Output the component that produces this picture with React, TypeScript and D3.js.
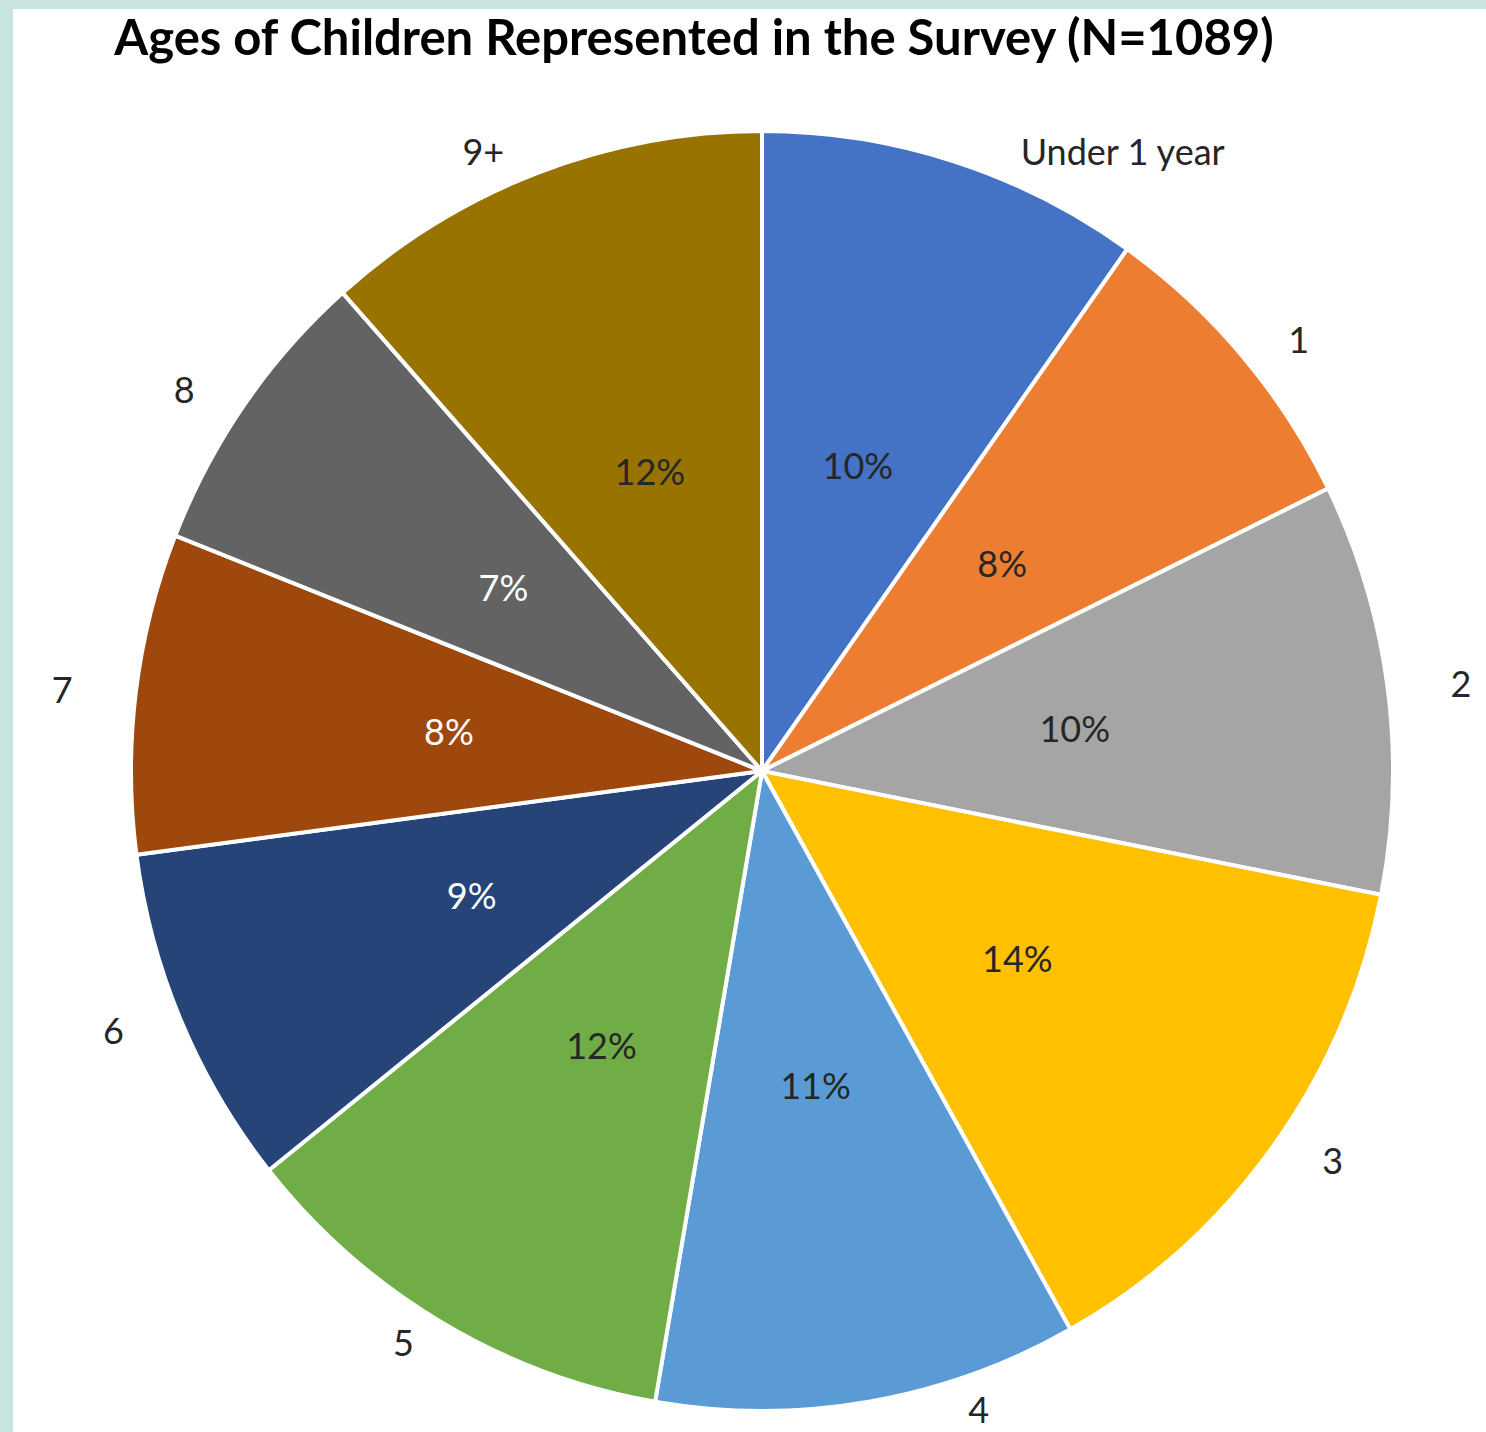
import React from "react";
import * as d3 from "d3";

const AGE_GROUPS = ["Under 1 year", "1", "2", "3", "4", "5", "6", "7", "8", "9+"];
const CHILD_COUNTS = [107, 86, 113, 150, 118, 126, 94, 88, 81, 126];
const SLICE_COLORS = [
  "#4472C4", "#ED7D31", "#A5A5A5", "#FFC000", "#5B9BD5",
  "#70AD47", "#264478", "#9E480E", "#636363", "#997300",
];
const TITLE = "Ages of Children Represented in the Survey (N=1089)";

const W = 1486;
const H = 1432;
const FONT = "Lato, 'Open Sans', sans-serif";
const LABEL_SIZE = 36;

let measureCtx: CanvasRenderingContext2D | null = null;
function textWidth(s: string, size: number) {
  if (!measureCtx) measureCtx = document.createElement("canvas").getContext("2d");
  if (!measureCtx) return s.length * size * 0.5;
  measureCtx.font = `${size}px Lato, 'Open Sans', sans-serif`;
  return measureCtx.measureText(s).width;
}

export default function App() {
  const cx = 762;
  const cy = 771;
  const r = 631;
  const ry = 640; // the original pie is a touch taller than wide
  const sy = ry / r;

  // outside labels sit on an ellipse, pushed back inside the chart when they'd leave it
  const labRx = 705;
  const labRy = 665;
  const labelMinY = 152;
  const labelMaxY = 1410;
  const capH = LABEL_SIZE * 0.72;

  const total = d3.sum(CHILD_COUNTS);
  const pct = d3.format(".0%");

  const slices = d3.pie<number>().sort(null).value((d) => d)(CHILD_COUNTS);
  const arc = d3.arc<d3.PieArcDatum<number>>().innerRadius(0).outerRadius(r);

  const outsidePos = (a: number, label: string) => {
    let x = Math.sin(a) * labRx;
    let y = -Math.cos(a) * labRy;
    const top = cy + y < labelMinY;
    const bottom = cy + y > labelMaxY;
    if (top || bottom) {
      y = (top ? labelMinY : labelMaxY) - cy;
      // slide sideways until the nearest text edge clears the pie
      const edgeY = top ? y + capH / 2 : y - capH / 2;
      const tx = r + 20;
      const ty = ry + 20;
      const x0 = tx * Math.sqrt(Math.max(1 - (edgeY / ty) ** 2, 0));
      x = Math.sign(x || 1) * (x0 + textWidth(label, LABEL_SIZE) / 2);
    }
    return [x, y];
  };

  return (
    <div style={{ position: "absolute", left: 0, top: 0 }}>
      <svg width={W} height={H} style={{ display: "block" }}>
        <rect width={W} height={H} fill="#c8e4df" />
        <rect x={13} y={9} width={W - 13} height={H - 9} fill="#ffffff" />

        <text
          x={694}
          y={55}
          textAnchor="middle"
          fontFamily={FONT}
          fontWeight={700}
          fontSize={49}
          fill="#000"
        >
          {TITLE}
        </text>

        <g transform={`translate(${cx},${cy})`}>
          <g transform={`scale(1,${sy})`}>
            {slices.map((s, i) => (
              <path key={i} d={arc(s) || ""} fill={SLICE_COLORS[i]} stroke="#fff" strokeWidth={4} />
            ))}
          </g>

          {/* percentages inside */}
          {slices.map((s, i) => {
            const [x, y] = arc.centroid(s);
            const dark = d3.lab(SLICE_COLORS[i]).l < 45;
            return (
              <text
                key={i}
                x={x}
                y={y * sy}
                dy="0.36em"
                textAnchor="middle"
                fontFamily={FONT}
                fontSize={LABEL_SIZE}
                fill={dark ? "#ffffff" : "#262626"}
              >
                {pct(s.value / total)}
              </text>
            );
          })}

          {/* category names outside */}
          {slices.map((s, i) => {
            const [x, y] = outsidePos((s.startAngle + s.endAngle) / 2, AGE_GROUPS[i]);
            return (
              <text
                key={i}
                x={x}
                y={y}
                dy="0.36em"
                textAnchor="middle"
                fontFamily={FONT}
                fontSize={LABEL_SIZE}
                fill="#262626"
              >
                {AGE_GROUPS[i]}
              </text>
            );
          })}
        </g>
      </svg>
    </div>
  );
}
